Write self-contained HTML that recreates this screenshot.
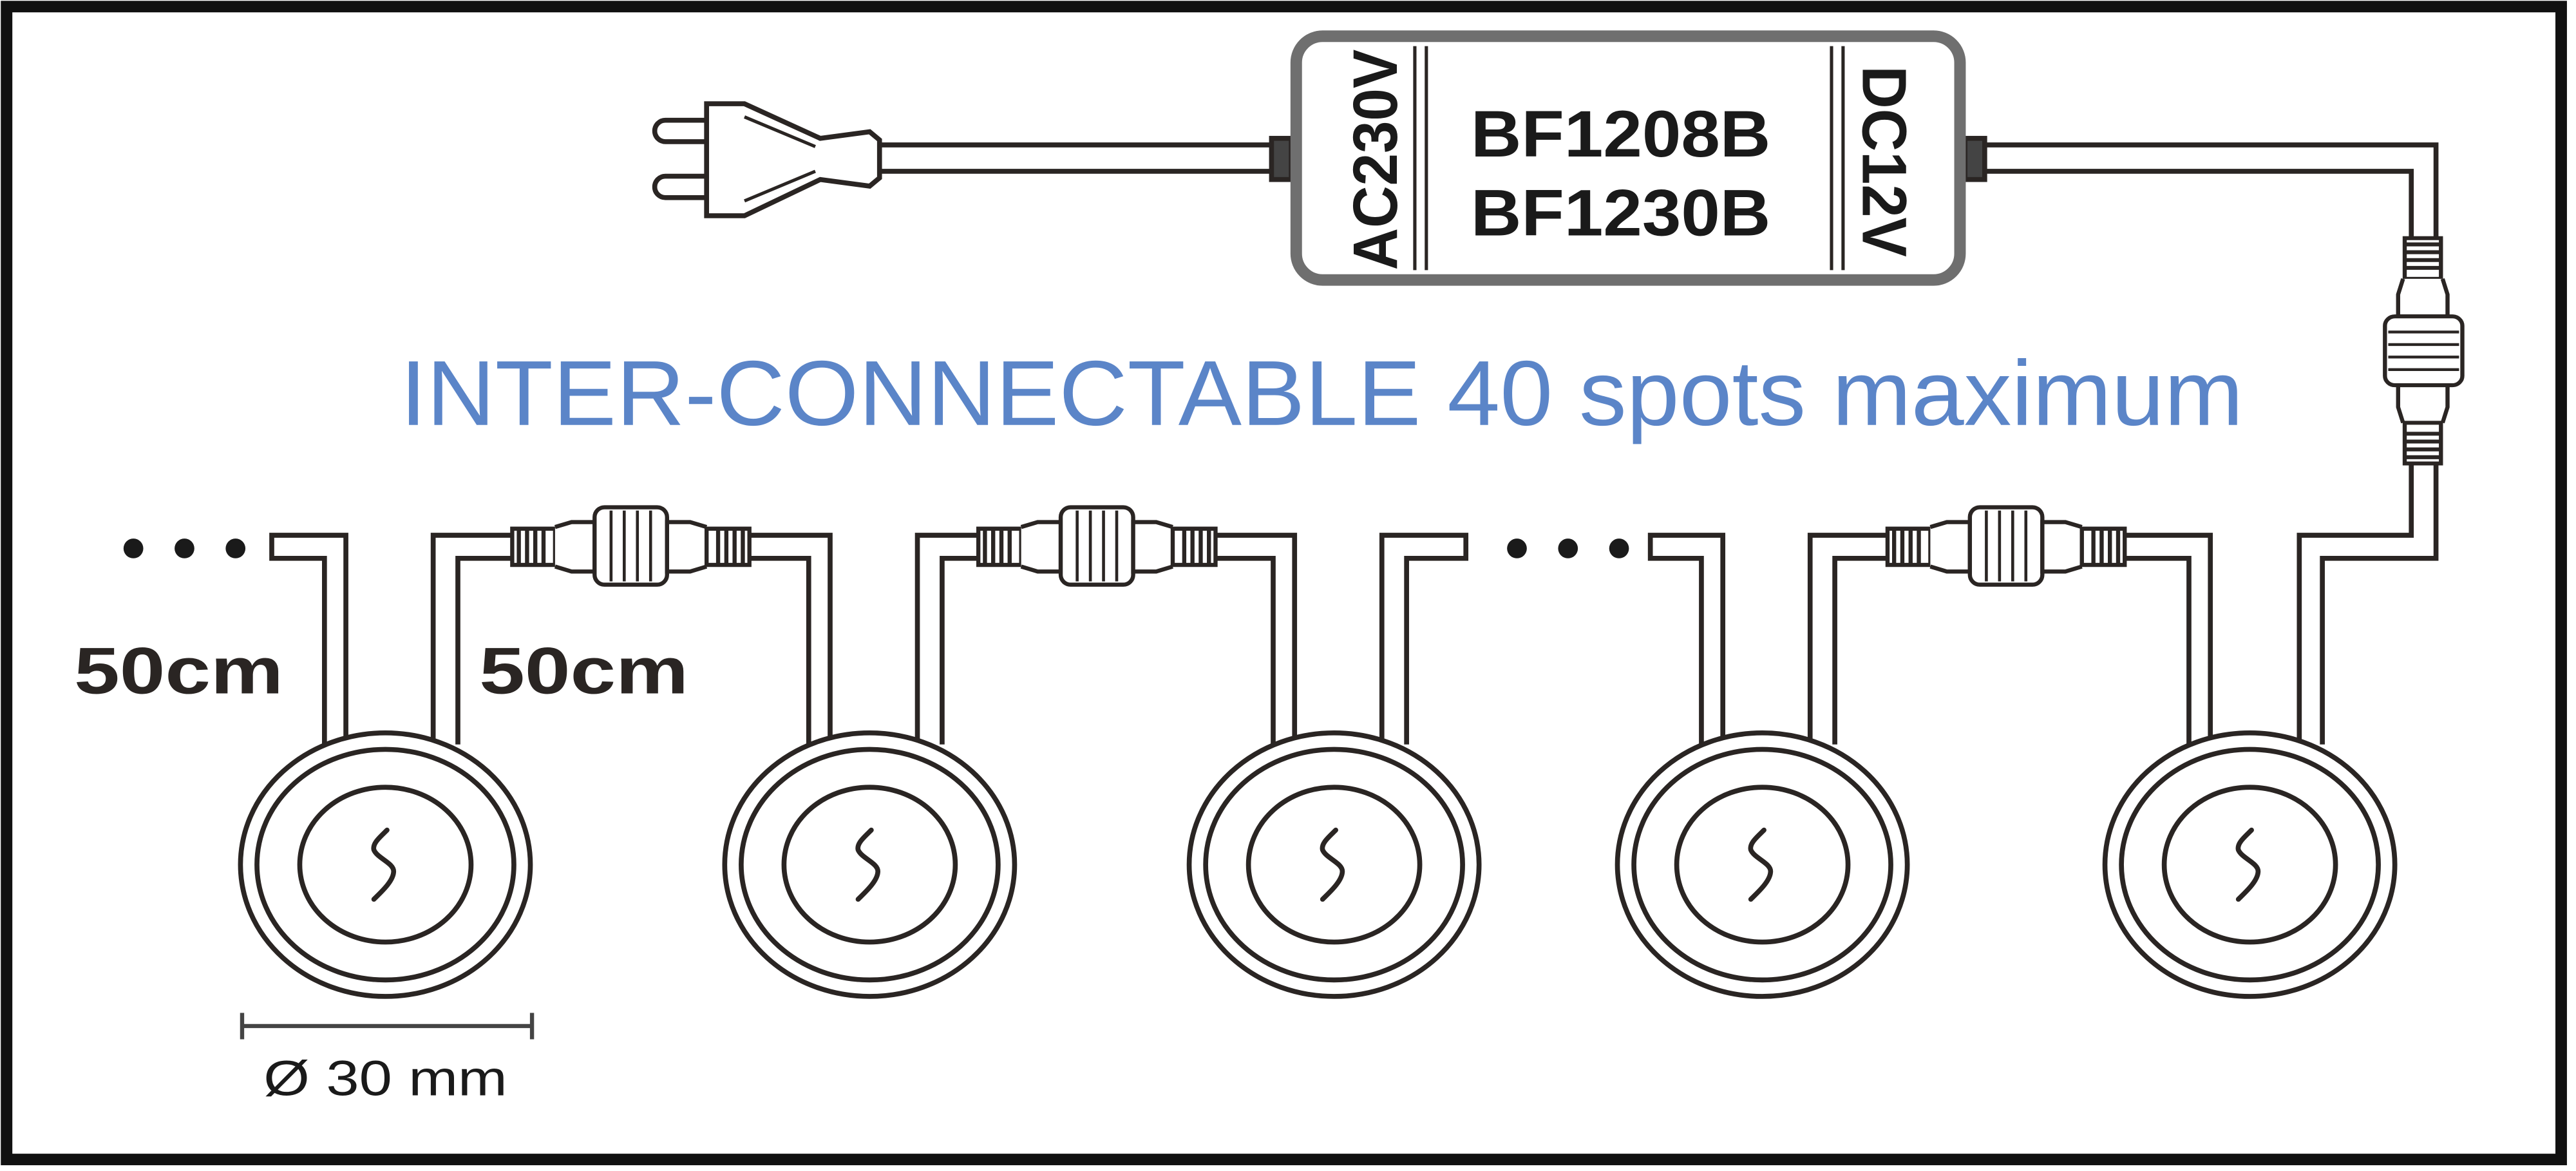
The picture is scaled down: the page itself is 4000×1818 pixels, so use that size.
<!DOCTYPE html>
<html><head><meta charset="utf-8"><style>
html,body{margin:0;padding:0;background:#fff;}
svg{display:block;}
</style></head><body>
<svg width="4000" height="1818" viewBox="0 0 1564 711" preserveAspectRatio="none" xmlns="http://www.w3.org/2000/svg">
<defs>
<g id="conn">
  <rect x="-72" y="-11" width="26" height="22" fill="#fff" stroke="#2a2523" stroke-width="2.5"/>
  <path d="M-68,-11V11M-63,-11V11M-58,-11V11M-53,-11V11" stroke="#2a2523" stroke-width="2.5"/>
  <path d="M-46,-12 L-36,-15 H-22 V15 H-36 L-46,12" fill="#fff" stroke="#2a2523" stroke-width="2.5"/>
  <rect x="-22" y="-24" width="44" height="47" rx="6" fill="#fff" stroke="#2a2523" stroke-width="2.5"/>
  <path d="M-12,-22V21M-4,-22V21M4,-22V21M12,-22V21" stroke="#2a2523" stroke-width="1.8"/>
  <path d="M46,-12 L36,-15 H22 V15 H36 L46,12" fill="#fff" stroke="#2a2523" stroke-width="2.5"/>
  <rect x="46" y="-11" width="26" height="22" fill="#fff" stroke="#2a2523" stroke-width="2.5"/>
  <path d="M53,-11V11M58,-11V11M63,-11V11M68,-11V11" stroke="#2a2523" stroke-width="2.5"/>
</g>
<g id="spot">
  <ellipse cx="0" cy="525" rx="88" ry="80" fill="#fff" stroke="#2a2523" stroke-width="3"/>
  <ellipse cx="0" cy="525" rx="78" ry="70" fill="none" stroke="#2a2523" stroke-width="3"/>
  <ellipse cx="0" cy="525" rx="52" ry="47" fill="none" stroke="#2a2523" stroke-width="3"/>
  <path d="M1,504 C-3,508 -8,512 -7,516 C-5,521 5,524 5,529 C5,535 -3,542 -7,546" fill="none" stroke="#2a2523" stroke-width="3" stroke-linecap="round"/>
</g>
</defs>
<rect width="1564" height="711" fill="#fff"/>
<rect x="4" y="4" width="1551" height="700" fill="none" stroke="#111" stroke-width="7"/>

<g fill="none" stroke="#2a2523" stroke-width="3">
  <path d="M429,73 H404 a6.5,6.5 0 0 0 0,13 H429"/>
  <path d="M429,107 H404 a6.5,6.5 0 0 0 0,13 H429"/>
  <path d="M429,63 H452 L498,84 L528,80 L534,85 V108 L528,113 L498,109 L452,131 H429 Z" fill="#fff"/>
  <path d="M452,71 L495,89 M452,122 L495,104" stroke-width="2"/>
  <path d="M534,88 H772 M534,104 H772"/>
  <rect x="772" y="84" width="12" height="25" fill="#444"/>
  <rect x="1193" y="84" width="12" height="25" fill="#444"/>
  <path d="M1205,88 H1479 V339 H1410 V452"/>
  <path d="M1205,104 H1464 V325 H1396 V452"/>
</g>
<g transform="translate(1471,213) rotate(90) scale(0.95,1)"><use href="#conn"/></g>

<rect x="787" y="22" width="403" height="148" rx="16" fill="#fff" stroke="#6f6f6f" stroke-width="7"/>
<path d="M859,28V164M866,28V164M1112,28V164M1119,28V164" stroke="#2a2523" stroke-width="2"/>
<g font-family="Liberation Sans, sans-serif" font-weight="bold" fill="#1a1a1a">
  <text x="893" y="95" font-size="40" textLength="182" lengthAdjust="spacingAndGlyphs">BF1208B</text>
  <text x="893" y="143" font-size="40" textLength="182" lengthAdjust="spacingAndGlyphs">BF1230B</text>
  <text transform="translate(848,164) rotate(-90)" font-size="38" textLength="134" lengthAdjust="spacingAndGlyphs">AC230V</text>
  <text transform="translate(1131,40) rotate(90)" font-size="38" textLength="116" lengthAdjust="spacingAndGlyphs">DC12V</text>
</g>

<text x="243" y="258" font-family="Liberation Sans, sans-serif" font-size="56" fill="#5b85c8" textLength="1119" lengthAdjust="spacingAndGlyphs">INTER-CONNECTABLE 40 spots maximum</text>

<g fill="none" stroke="#2a2523" stroke-width="3">
  <path d="M210,452 V325 H165 V339 H197 V452"/>
  <path d="M263,452 V325 H311 M278,452 V339 H311"/>
  <path d="M455,325 H504 V452 M455,339 H491 V452"/>
  <path d="M557,452 V325 H594 M572,452 V339 H594"/>
  <path d="M737,325 H786 V452 M737,339 H773 V452"/>
  <path d="M839,452 V325 H890 V339 H854 V452"/>
  <path d="M1046,452 V325 H1002 V339 H1033 V452"/>
  <path d="M1099,452 V325 H1146 M1114,452 V339 H1146"/>
  <path d="M1289,325 H1342 V452 M1289,339 H1329 V452"/>
</g>
<use href="#conn" transform="translate(383,332)"/>
<use href="#conn" transform="translate(666,332)"/>
<use href="#conn" transform="translate(1218,332)"/>

<use href="#spot" transform="translate(234,0)"/>
<use href="#spot" transform="translate(528,0)"/>
<use href="#spot" transform="translate(810,0)"/>
<use href="#spot" transform="translate(1070,0)"/>
<use href="#spot" transform="translate(1366,0)"/>

<g fill="#1a1a1a">
  <circle cx="81" cy="333" r="6"/><circle cx="112" cy="333" r="6"/><circle cx="143" cy="333" r="6"/>
  <circle cx="921" cy="333" r="6"/><circle cx="952" cy="333" r="6"/><circle cx="983" cy="333" r="6"/>
</g>

<g font-family="Liberation Sans, sans-serif" font-weight="bold" fill="#2a2523">
  <text x="45" y="421" font-size="40" textLength="127" lengthAdjust="spacingAndGlyphs">50cm</text>
  <text x="291" y="421" font-size="40" textLength="127" lengthAdjust="spacingAndGlyphs">50cm</text>
</g>

<path d="M147,623 H323 M147,615 V631 M323,615 V631" stroke="#444" stroke-width="2.5" fill="none"/>
<text x="160" y="665" font-family="Liberation Sans, sans-serif" font-size="30" fill="#1a1a1a" textLength="148" lengthAdjust="spacingAndGlyphs">Ø 30 mm</text>
</svg>
</body></html>
